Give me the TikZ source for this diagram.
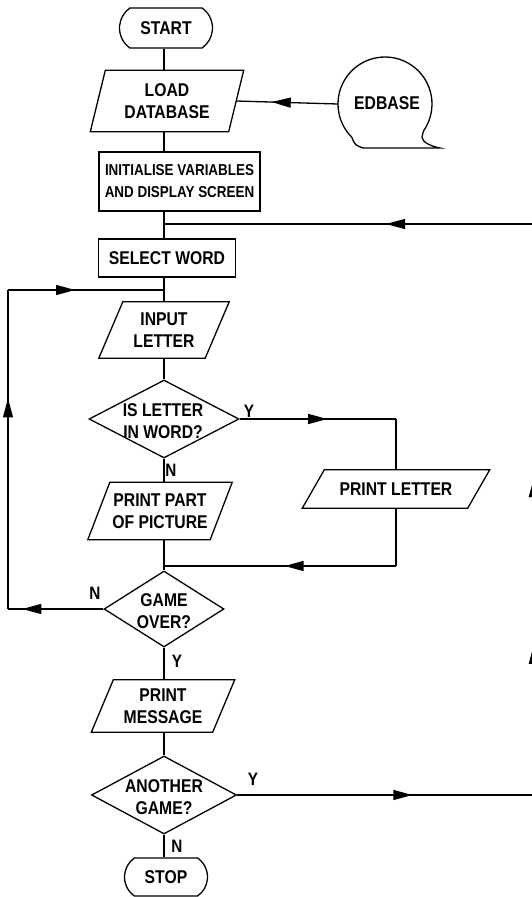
\documentclass[tikz,border=0pt]{standalone}
\usepackage{fontspec}
\setmainfont{Liberation Sans}[FakeStretch=0.85]
\usetikzlibrary{shapes.geometric,shapes.misc,arrows.meta,decorations.markings}

\tikzset{
  line/.style={line width=1.3pt, draw=black},
  txt/.style={font=\fontsize{18.5}{22}\selectfont\bfseries, align=center, inner sep=0pt},
  term/.style={txt, line, rounded rectangle, rounded rectangle arc length=110},
  proc/.style={txt, line, rectangle},
  iobox/.style={txt, rectangle},
  dec/.style={line, diamond, inner sep=0pt},
  lbl/.style={font=\fontsize{18}{22}\selectfont\bfseries, inner sep=0pt},
  arrowat/.style={postaction={decorate}, decoration={markings,
      mark=at position #1 with {\arrow{Triangle[length=19pt,width=10pt]}}}},
}
\newcommand{\drawpara}[2]{%
  \draw[line] ([xshift=#2]#1.north west) -- ([xshift=#2]#1.north east)
    -- ([xshift=-#2]#1.south east) -- ([xshift=-#2]#1.south west) -- cycle;}

\begin{document}
\begin{tikzpicture}[x=1pt,y=-1pt]
\useasboundingbox (0,0) rectangle (532,897);
\coordinate (col) at (164,0);

% nodes
\node[term, minimum width=93pt, minimum height=40pt] (start) at (166,28) {START};
\node[iobox, minimum width=138pt, minimum height=61pt] (load) at (167,101) {LOAD\\DATABASE};
\drawpara{load}{7.5pt}
\node[circle, minimum size=94pt, inner sep=0pt] (edbase) at (385,104) {};
\node[txt] (edbaset) at (387,103) {EDBASE};
\draw[line] (edbase.center) ++(35:47) arc[start angle=35, end angle=-225, radius=47]
  .. controls (355,145) .. (363,148) -- (440,148)
  .. controls (430,146) and (422,142) .. (422,137) -- cycle;
\node[proc, minimum width=161pt, minimum height=59pt, font=\fontsize{15.8}{22}\selectfont\bfseries] (init) at (179.5,181.5) {INITIALISE VARIABLES\\AND DISPLAY SCREEN};
\node[proc, minimum width=137pt, minimum height=38pt] (select) at (167,258) {SELECT WORD};
\node[iobox, minimum width=106pt, minimum height=56pt] (input) at (164,330) {INPUT\\LETTER};
\drawpara{input}{12pt}
\node[dec, minimum width=150pt, minimum height=78pt] (d1) at (164,419) {};
\node[txt] (d1t) at (163,421) {IS LETTER\\IN WORD?};
\node[iobox, minimum width=122pt, minimum height=57pt] (part) at (160,511) {PRINT PART\\OF PICTURE};
\drawpara{part}{11pt}
\node[iobox, minimum width=165pt, minimum height=38pt] (pletter) at (396,489) {PRINT LETTER};
\drawpara{pletter}{11pt}
\node[dec, minimum width=120pt, minimum height=76pt] (d2) at (164,609) {};
\node[txt] (d2t) at (164,611) {GAME\\OVER?};
\node[iobox, minimum width=121pt, minimum height=52pt] (msg) at (163,706) {PRINT\\MESSAGE};
\drawpara{msg}{11pt}
\node[dec, minimum width=145pt, minimum height=78pt] (d3) at (164,795) {};
\node[txt] (d3t) at (164,797) {ANOTHER\\GAME?};
\node[term, minimum width=83pt, minimum height=38pt] (stop) at (166,877) {STOP};

% junction coordinates
\coordinate (j1) at (164,224);
\coordinate (j2) at (164,290);
\coordinate (j3) at (164,566);
\coordinate (rt) at (534,224);
\coordinate (rb) at (534,795);
\coordinate (lt) at (8,290);
\coordinate (lb) at (8,609);
\coordinate (pt) at (396,419);
\coordinate (pb) at (396,566);

% main column
\draw[line] (start.south -| col) -- (load.north -| col);
\draw[line] (load.south -| col) -- (init.north -| col);
\draw[line] (init.south -| col) -- (select.north -| col);
\draw[line] (select.south -| col) -- (input.north -| col);
\draw[line] (input.south -| col) -- (d1.north);
\draw[line] (d1.south) -- (part.north -| col);
\draw[line] (part.south -| col) -- (d2.north);
\draw[line] (d2.south) -- (msg.north -| col);
\draw[line] (msg.south -| col) -- (d3.north);
\draw[line] (d3.south) -- (stop.north -| col);

% side connectors
\draw[line, arrowat=0.65] (edbase.west) -- (load.east);
\draw[line, arrowat=0.40] (rt) -- (j1);
\draw[line, arrowat=0.85] (d2.west) -- (lb);
\draw[line, arrowat=0.66] (lb) -- (lt);
\draw[line, arrowat=0.43] (lt) -- (j2);
\draw[line, arrowat=0.56] (d1.east) -- (pt);
\draw[line] (pt) -- (pletter.north);
\draw[line] (pletter.south) -- (pb);
\draw[line, arrowat=0.48] (pb) -- (j3);
\draw[line, arrowat=0.59] (d3.east) -- (rb);
\draw[line, arrowat=0.263, arrowat=0.555] (rb) -- (rt);

% labels
\node[lbl] (y1) at (249,411) {Y};
\node[lbl] (n1) at (171,470) {N};
\node[lbl] (n2) at (95,593) {N};
\node[lbl] (y2) at (177,661) {Y};
\node[lbl] (y3) at (253,779) {Y};
\node[lbl] (n3) at (177,846) {N};
\end{tikzpicture}
\end{document}
